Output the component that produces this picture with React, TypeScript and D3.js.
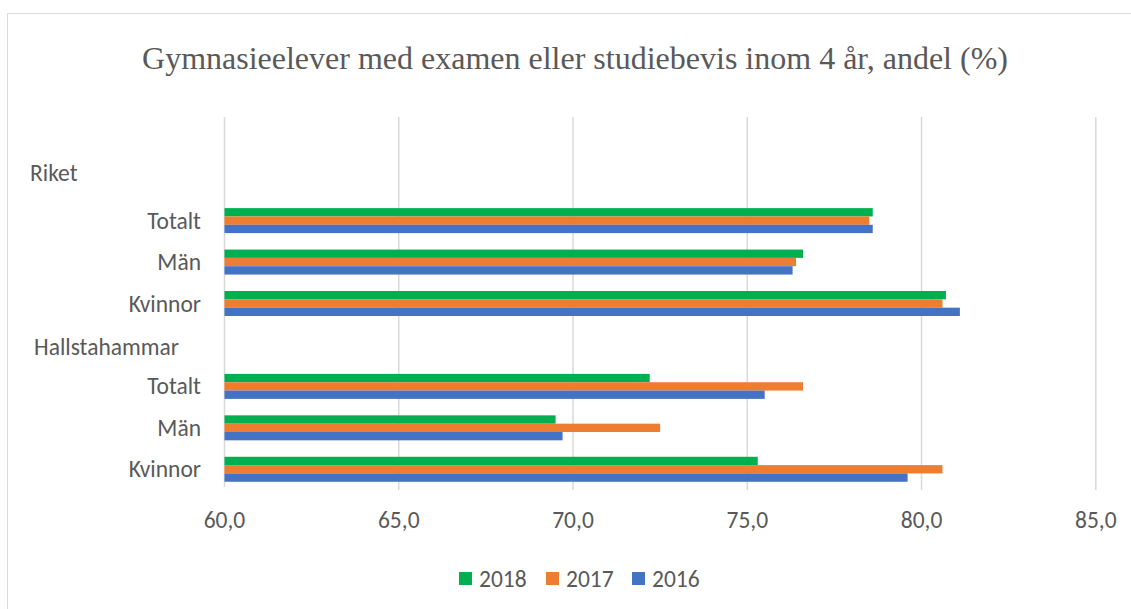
import React from "react";
import * as d3 from "d3";

const groups = ["Riket", "Hallstahammar"];
const subCategories = ["Totalt", "Män", "Kvinnor"];
const years = ["2018", "2017", "2016"];
const riket2018 = [78.6, 76.6, 80.7];
const riket2017 = [78.5, 76.4, 80.6];
const riket2016 = [78.6, 76.3, 81.1];
const hall2018 = [72.2, 69.5, 75.3];
const hall2017 = [76.6, 72.5, 80.6];
const hall2016 = [75.5, 69.7, 79.6];
const xTicks = [60, 65, 70, 75, 80, 85];
const title = "Gymnasieelever med examen eller studiebevis inom 4 år, andel (%)";

const colors: Record<string, string> = { "2018": "#00B050", "2017": "#ED7D31", "2016": "#4472C4" };
const textColor = "#595959";
const gridColor = "#D9D9D9";
const sans = "Carlito, 'Open Sans', sans-serif";
const fs = 23.5;

export default function App() {
  const W = 1131, H = 609;
  const x = d3.scaleLinear().domain([60, 85]).range([224.5, 1095.8]);
  const rows: { id: string; label: string; kind: "group" | "cat" | "blank"; vals?: Record<string, number> }[] = [
    { id: "blank", label: "", kind: "blank" },
  ];
  const seriesByGroup = [
    { "2018": riket2018, "2017": riket2017, "2016": riket2016 },
    { "2018": hall2018, "2017": hall2017, "2016": hall2016 },
  ];
  groups.forEach((g, gi) => {
    rows.push({ id: g, label: g, kind: "group" });
    subCategories.forEach((c, ci) => {
      const s = seriesByGroup[gi] as Record<string, number[]>;
      rows.push({
        id: g + "-" + c,
        label: c,
        kind: "cat",
        vals: { "2018": s["2018"][ci], "2017": s["2017"][ci], "2016": s["2016"][ci] },
      });
    });
  });
  const p = 0.397;
  const y = d3.scaleBand().domain(rows.map((r) => r.id)).range([117, 490]).paddingInner(p).paddingOuter(p / 2);
  const yInner = d3.scaleBand().domain(years).range([0, y.bandwidth()]);

  return (
    <svg width={W} height={H} style={{ position: "absolute", left: 0, top: 0, background: "#fff" }}>
      <rect x={7.5} y={13.5} width={1140} height={620} fill="#fff" stroke={gridColor} strokeWidth={1} />
      <text x={575} y={58} textAnchor="middle" dominantBaseline="central" fontFamily="'Liberation Serif', 'Times New Roman', serif" fontSize={32} fill={textColor}>
        {title}
      </text>
      {xTicks.map((t) => (
        <g key={t}>
          <line x1={x(t)} x2={x(t)} y1={117} y2={t === 60 ? 487 : 490} stroke={gridColor} strokeWidth={1.5} />
          <text x={x(t)} y={519.5} textAnchor="middle" dominantBaseline="central" fontFamily={sans} fontSize={fs} fill={textColor}>
            {d3.format(".1f")(t).replace(".", ",")}
          </text>
        </g>
      ))}
      {rows.map((r) => {
        const cy = (y(r.id) as number) + y.bandwidth() / 2;
        if (r.kind === "blank") return null;
        if (r.kind === "group") {
          const gi = groups.indexOf(r.id);
          return (
            <text key={r.id} x={gi === 0 ? 30 : 34} y={cy + (gi === 0 ? -6 : 2)} dominantBaseline="central" fontFamily={sans} fontSize={fs} fill={textColor}>
              {r.label}
            </text>
          );
        }
        return (
          <g key={r.id}>
            <text x={201} y={cy} textAnchor="end" dominantBaseline="central" fontFamily={sans} fontSize={fs} fill={textColor}>
              {r.label}
            </text>
            {years.map((yr) => (
              <rect
                key={yr}
                x={x(60)}
                y={(y(r.id) as number) + (yInner(yr) as number)}
                width={x(r.vals![yr]) - x(60)}
                height={yInner.bandwidth()}
                fill={colors[yr]}
              />
            ))}
          </g>
        );
      })}
      {years.map((yr, i) => {
        const lx = [459, 546, 632][i];
        return (
          <g key={yr}>
            <rect x={lx} y={572} width={13} height={13} fill={colors[yr]} />
            <text x={lx + 20} y={578.5} dominantBaseline="central" fontFamily={sans} fontSize={fs} fill={textColor}>
              {yr}
            </text>
          </g>
        );
      })}
    </svg>
  );
}
